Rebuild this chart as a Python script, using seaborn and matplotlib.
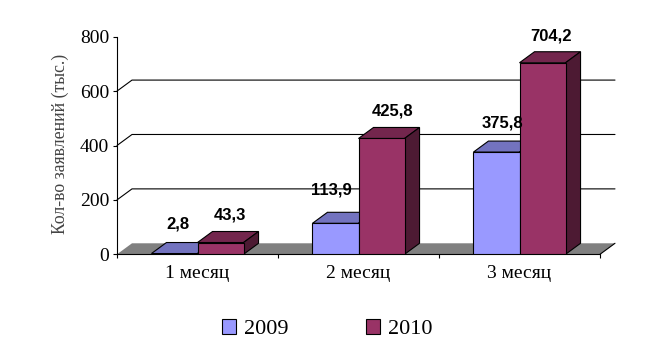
import matplotlib
matplotlib.use("Agg")
import matplotlib.pyplot as plt
from matplotlib.patches import Polygon
import pandas as pd
import seaborn as sns

# data
months = ["1 месяц", "2 месяц", "3 месяц"]
values_2009 = [2.8, 113.9, 375.8]
values_2010 = [43.3, 425.8, 704.2]
labels_2009 = ["2,8", "113,9", "375,8"]
labels_2010 = ["43,3", "425,8", "704,2"]
years = ["2009", "2010"]

df = pd.DataFrame({
    "month": months * 2,
    "value": values_2009 + values_2010,
    "year": [years[0]] * 3 + [years[1]] * 3,
})

front = {"2009": "#9999FF", "2010": "#993366"}
top = {"2009": "#7373BF", "2010": "#73264D"}
side = {"2009": "#4D4D80", "2010": "#4D1A33"}

sns.set_theme(style="white")
plt.rcParams["font.family"] = ["Liberation Serif", "DejaVu Serif"]

fig = plt.figure(figsize=(6.6, 3.58), dpi=100)
ax = fig.add_axes([117 / 660, 1 - 254.3 / 358, 483 / 660, 217.6 / 358])

sns.barplot(data=df, x="month", y="value", hue="year", palette=front, width=0.572,
            gap=0, edgecolor="black", linewidth=0.8, saturation=1, ax=ax)
ax.set_xlim(-0.5, 2.5)
ax.set_ylim(0, 800)

# fake 3d depth
dx = 15 / 161
dy = 40.5

# floor and back grid
ax.add_patch(Polygon([(-0.5, 0), (-0.5 + dx, dy), (2.5 + dx, dy), (2.5, 0)], closed=True,
                     facecolor="#808080", edgecolor="none", zorder=1, clip_on=False))
ax.plot([2.5, 2.5 + dx], [0, dy], color="black", lw=0.8, zorder=1.2, clip_on=False)
for g in [200, 400, 600]:
    ax.plot([-0.5, -0.5 + dx, 2.5 + dx], [g, g + dy, g + dy], color="black", lw=0.8,
            zorder=1.5, clip_on=False)

offs_2009 = [(3, 30), (-4, 33), (6, 29)]
offs_2010 = [(9, 28), (11, 27), (8, 27)]
for k, (cont, year) in enumerate(zip(ax.containers, years)):
    txt = labels_2009 if year == "2009" else labels_2010
    offs = offs_2009 if year == "2009" else offs_2010
    for i, bar in enumerate(cont):
        x0, w, h = bar.get_x(), bar.get_width(), bar.get_height()
        x1 = x0 + w
        z = 3 + k
        bar.set_zorder(z + 0.2)
        ax.add_patch(Polygon([(x0, h), (x0 + dx, h + dy), (x1 + dx, h + dy), (x1, h)], closed=True,
                             facecolor=top[year], edgecolor="black", lw=0.8, zorder=z, clip_on=False))
        ax.add_patch(Polygon([(x1, 0), (x1 + dx, dy), (x1 + dx, h + dy), (x1, h)], closed=True,
                             facecolor=side[year], edgecolor="black", lw=0.8, zorder=z, clip_on=False))
        ax.annotate(txt[i], xy=(x0 + w / 2, h), xytext=(offs[i][0] * 0.72, offs[i][1] * 0.72),
                    textcoords="offset points", ha="center", va="center", zorder=8,
                    family="Liberation Sans", fontweight="bold", fontsize=12, color="black")

sns.despine(ax=ax)
for s in ["left", "bottom"]:
    ax.spines[s].set_color("black")
    ax.spines[s].set_linewidth(0.8)

ax.set_yticks([0, 200, 400, 600, 800])
ax.tick_params(axis="y", length=3, width=0.8, color="black", labelsize=14, pad=2.5, left=True, labelcolor="black")
ax.set_xticks([-0.5, 0.5, 1.5, 2.5], minor=True)
ax.tick_params(axis="x", which="minor", length=3, width=0.8, color="black", bottom=True)
ax.tick_params(axis="x", which="major", length=0, labelsize=14, pad=8, labelcolor="black")

ax.set_xlabel("")
ax.set_ylabel("Кол-во заявлений (тыс.)", fontsize=12.8, color="#444444")
ax.yaxis.set_label_coords(-0.1, 0.507)

handles, _ = ax.get_legend_handles_labels()
ax.legend(handles, years, ncol=2, frameon=False, fontsize=16, loc="center",
          bbox_to_anchor=(327 / 660, 1 - 329 / 358), bbox_transform=fig.transFigure,
          handlelength=0.64, handleheight=0.64, handletextpad=0.35, columnspacing=3.5,
          labelcolor="black", borderpad=0)

fig.savefig("out.png", dpi=100)
